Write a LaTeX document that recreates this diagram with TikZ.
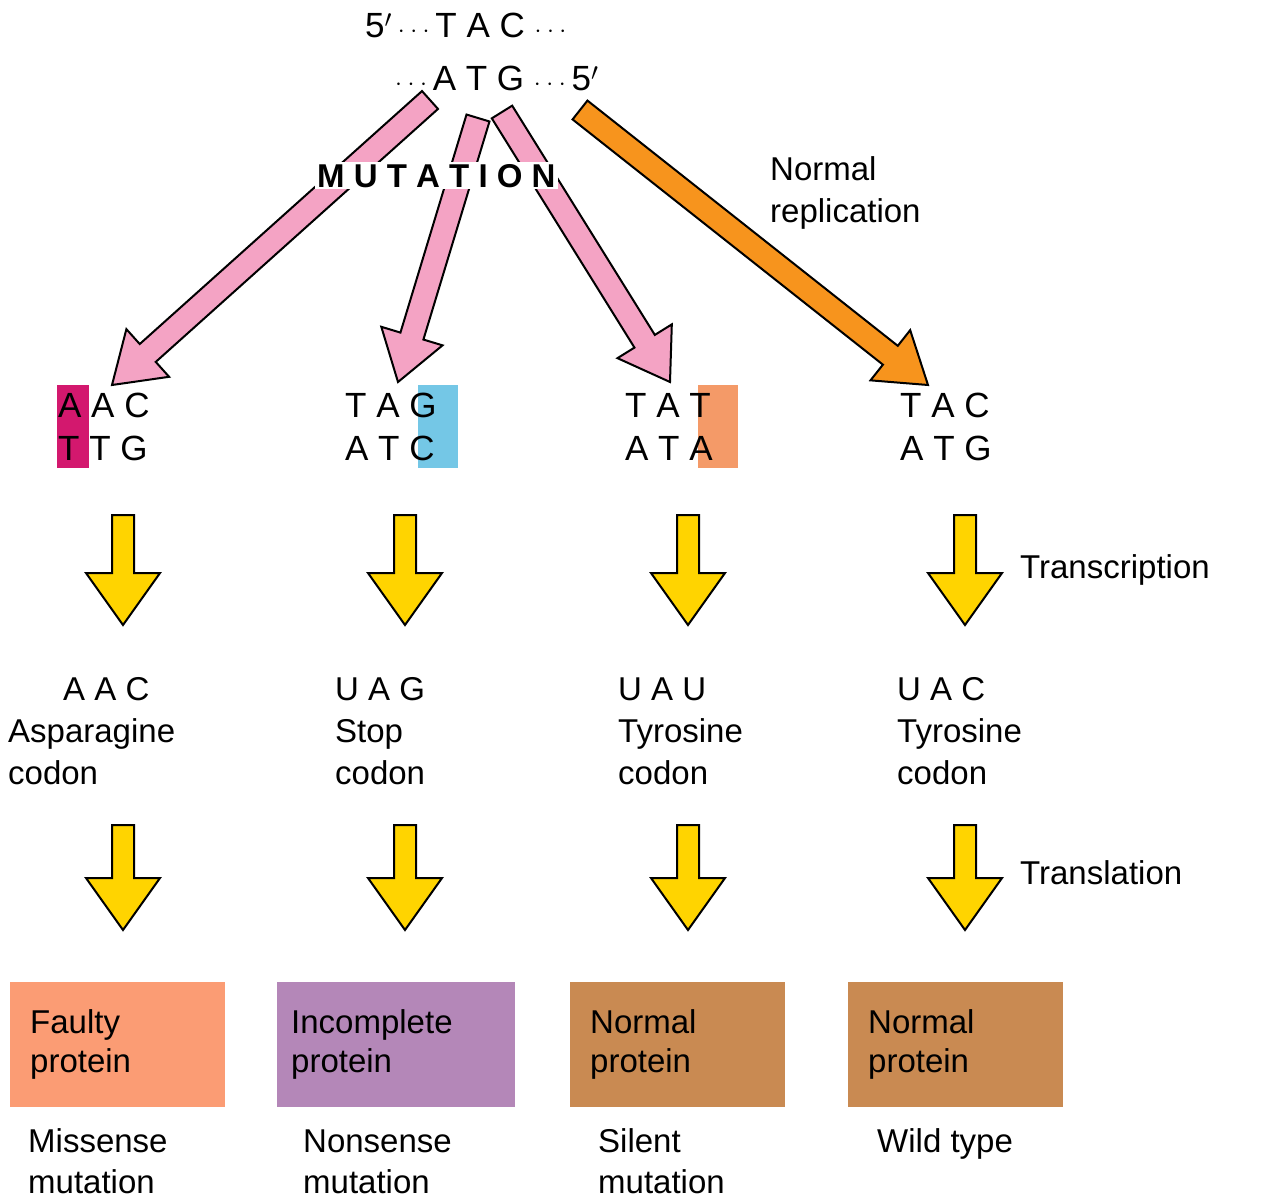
\documentclass[tikz,border=0pt]{standalone}
\usepackage{fontspec}
\setmainfont{Liberation Sans}
\usetikzlibrary{calc}
\definecolor{pinkarrow}{HTML}{F4A3C4}
\definecolor{orangearrow}{HTML}{F7941D}
\definecolor{yellowarrow}{HTML}{FFD400}
\definecolor{hlmagenta}{HTML}{D3186E}
\definecolor{hlblue}{HTML}{74C7E6}
\definecolor{hlorange}{HTML}{F49A68}
\definecolor{faulty}{HTML}{FB9C74}
\definecolor{incomplete}{HTML}{B487B8}
\definecolor{normalp}{HTML}{C98A52}
\def\sw{12pt}\def\hw{32pt}\def\hl{48pt}
\newcommand\fatarrow[3]{%
  \coordinate (neck) at ($(#2)!\hl!(#1)$);
  \draw[#3] ($(#1)!\sw!90:(#2)$) -- ($(neck)!\sw!90:(#2)$) -- ($(neck)!\hw!90:(#2)$)
    -- (#2) -- ($(neck)!\hw!-90:(#2)$) -- ($(neck)!\sw!-90:(#2)$) -- ($(#1)!\sw!-90:(#2)$) -- cycle;}
\begin{document}
\begin{tikzpicture}[x=1pt,y=-1pt,
txt/.style={inner sep=0,anchor=base west,font=\fontsize{33}{39}\selectfont},
dna/.style={inner sep=0,anchor=base west,font=\fontsize{35}{40}\selectfont},
hl/.style={fill=#1,draw=none},
pbox/.style={fill=#1,draw=none,minimum width=215pt,minimum height=125pt,anchor=north west,inner sep=0,
  align=left,text width=175pt,font=\fontsize{33}{39}\selectfont},
fat/.style={draw=black,line width=2pt,line join=miter,fill=#1}]
\useasboundingbox (0,0) rectangle (1265,1200);
% template strand
\node (top1) [dna] at (365,37) {5$'$\,$\cdot\cdot\cdot$\,T A C $\cdot\cdot\cdot$};
\node (top2) [dna] at (395,90) {$\cdot\cdot\cdot$\,A T G $\cdot\cdot\cdot$\,5$'$};
% highlights
\fill[hl=hlmagenta] (57,385) rectangle (89,468);
\fill[hl=hlblue] (418,385) rectangle (458,468);
\fill[hl=hlorange] (698,385) rectangle (738,468);
% arrows from the strand
\coordinate (ms1) at (430,100); \coordinate (me1) at (112,385);
\coordinate (ms2) at (478,118); \coordinate (me2) at (398,382);
\coordinate (ms3) at (502,112); \coordinate (me3) at (670,382);
\coordinate (ns) at (580,110); \coordinate (ne) at (928,385);
\fatarrow{ms1}{me1}{fat=pinkarrow}
\fatarrow{ms2}{me2}{fat=pinkarrow}
\fatarrow{ms3}{me3}{fat=pinkarrow}
\fatarrow{ns}{ne}{fat=orangearrow}
\node (mut) [txt,font=\bfseries\fontsize{33}{39}\selectfont,fill=white,inner sep=2pt] at (315,187) {M U T A T I O N};
\node (norm) [txt] at (770,180) {Normal};
\node (repl) [txt] at (770,222) {replication};
% mutated codons
\foreach \x/\a/\b [count=\i] in {58/A A C/T T G,345/T A G/A T C,625/T A T/A T A,900/T A C/A T G}{
  \node (up\i) [dna] at (\x,417) {\a};
  \node (lo\i) [dna] at (\x,460) {\b};
}
% transcription and translation
\foreach \x [count=\i] in {123,405,688,965}{
  \coordinate (ta\i) at (\x,515); \coordinate (tb\i) at (\x,625);
  \coordinate (la\i) at (\x,825); \coordinate (lb\i) at (\x,930);
}
\def\sw{11pt}\def\hw{37pt}\def\hl{52pt}
\foreach \i in {1,...,4}{
  \fatarrow{ta\i}{tb\i}{fat=yellowarrow}
  \fatarrow{la\i}{lb\i}{fat=yellowarrow}
}
\node (trc) [txt] at (1020,578) {Transcription};
\node (trl) [txt] at (1020,884) {Translation};
% mRNA codons
\node (c1) [txt] at (63,700) {A A C};
\node (c1a) [txt] at (8,742) {Asparagine};
\node (c1b) [txt] at (8,784) {codon};
\node (c2) [txt] at (335,700) {U A G};
\node (c2a) [txt] at (335,742) {Stop};
\node (c2b) [txt] at (335,784) {codon};
\node (c3) [txt] at (618,700) {U A U};
\node (c3a) [txt] at (618,742) {Tyrosine};
\node (c3b) [txt] at (618,784) {codon};
\node (c4) [txt] at (897,700) {U A C};
\node (c4a) [txt] at (897,742) {Tyrosine};
\node (c4b) [txt] at (897,784) {codon};
% proteins
\node (p1) [pbox=faulty] at (10,982) {Faulty\\protein};
\node (p2) [pbox=incomplete,minimum width=238pt,text width=210pt] at (277,982) {Incomplete\\protein};
\node (p3) [pbox=normalp] at (570,982) {Normal\\protein};
\node (p4) [pbox=normalp] at (848,982) {Normal\\protein};
\node (k1) [txt] at (28,1152) {Missense};
\node (k1b) [txt] at (28,1193) {mutation};
\node (k2) [txt] at (303,1152) {Nonsense};
\node (k2b) [txt] at (303,1193) {mutation};
\node (k3) [txt] at (598,1152) {Silent};
\node (k3b) [txt] at (598,1193) {mutation};
\node (k4) [txt] at (877,1152) {Wild type};
\end{tikzpicture}
\end{document}
